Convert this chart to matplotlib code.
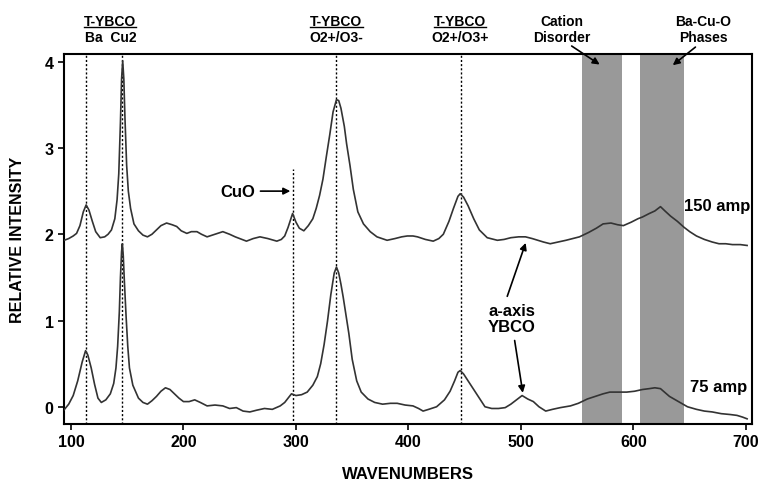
import numpy as np
from matplotlib import pyplot as plt
from matplotlib.lines import Line2D

plt.rcParams['font.family'] = ['Liberation Sans', 'DejaVu Sans']
plt.rcParams['font.weight'] = 'bold'

# 150 amp spectrum (upper trace)
wn_150 = [94, 98, 102, 105, 108, 111, 113.5, 116, 119, 122, 126, 130, 133, 136, 139, 141, 142.5, 144,
          145, 146, 147, 148, 149.5, 151, 153, 156, 160, 164, 168, 172, 176, 180, 185, 190, 194,
          198, 203, 207, 212, 216, 221, 228, 235, 241, 246, 250, 256, 262, 268, 275, 283, 287,
          290, 293, 297, 300, 303, 307, 311, 315, 318, 321, 324, 327, 330, 333, 336, 338, 340,
          343, 345, 348, 351, 355, 360, 366, 372, 381, 388, 394, 399, 404, 408, 415, 422, 427,
          431, 436, 440, 444, 446, 449, 453, 458, 463, 470, 479, 485, 491, 498, 504, 510, 515,
          520, 526, 533, 540, 546, 552, 560, 567, 573, 580, 586, 591, 598, 604, 608, 614, 619,
          624, 628, 633, 639, 645, 650, 656, 663, 670, 676, 682, 688, 695, 701]
int_150 = [1.93, 1.95, 1.98, 2.01, 2.1, 2.26, 2.34, 2.28, 2.15, 2.03, 1.96, 1.97, 2.0, 2.05, 2.18, 2.4, 2.7, 3.3,
           3.8, 4.01, 3.8, 3.35, 2.8, 2.5, 2.3, 2.12, 2.04, 1.99, 1.97, 2.0, 2.05, 2.1, 2.13, 2.11, 2.09,
           2.04, 2.01, 2.03, 2.03, 2.0, 1.97, 2.0, 2.03, 2.0, 1.97, 1.95, 1.92, 1.95, 1.97, 1.95, 1.92, 1.94,
           1.98, 2.08, 2.24, 2.14, 2.07, 2.04, 2.1, 2.18, 2.3, 2.45, 2.64, 2.9, 3.15, 3.42, 3.56, 3.55, 3.46,
           3.25, 3.05, 2.8, 2.52, 2.26, 2.12, 2.03, 1.97, 1.93, 1.95, 1.97, 1.98, 1.98, 1.97, 1.94, 1.92, 1.95,
           2.0, 2.15, 2.3, 2.44, 2.47, 2.43, 2.33, 2.18, 2.05, 1.96, 1.93, 1.94, 1.96, 1.97, 1.97, 1.95, 1.93,
           1.91, 1.89, 1.91, 1.93, 1.95, 1.97, 2.02, 2.07, 2.12, 2.13, 2.11, 2.1, 2.14, 2.18, 2.2, 2.24, 2.27,
           2.32, 2.27, 2.21, 2.15, 2.08, 2.03, 1.98, 1.94, 1.91, 1.89, 1.89, 1.88, 1.88, 1.87]

# 75 amp spectrum (lower trace)
wn_75 = [93, 98, 102, 106, 110, 113, 115, 118, 121, 124, 127, 131, 135, 138, 140, 141.5, 143, 144, 145,
         145.7, 146.5, 147.5, 149, 150.5, 152, 155, 160, 164, 168, 172, 176, 180, 184, 188, 192, 196,
         200, 205, 210, 215, 221, 228, 235, 241, 247, 253, 259, 265, 272, 279, 286, 290, 293, 296,
         300, 305, 310, 315, 319, 322, 325, 328, 331, 334, 336, 338, 340, 342, 344, 347, 350, 354,
         358, 364, 370, 377, 384, 390, 397, 404, 409, 413, 418, 425, 432, 437, 441, 444, 446, 449,
         453, 458, 463, 468, 474, 480, 486, 491, 496, 501, 506, 511, 516, 522, 528, 535, 544, 551,
         559, 566, 573, 579, 586, 594, 601, 608, 614, 619, 624, 632, 640, 648, 656, 663, 670, 678,
         686, 692, 697, 701]
int_75 = [-0.05, 0.03, 0.13, 0.3, 0.52, 0.65, 0.6, 0.45, 0.26, 0.1, 0.05, 0.08, 0.15, 0.27, 0.45, 0.7, 1.1, 1.5, 1.8,
          1.89, 1.75, 1.45, 1.05, 0.7, 0.45, 0.25, 0.1, 0.05, 0.03, 0.07, 0.12, 0.18, 0.22, 0.2, 0.15, 0.1,
          0.06, 0.06, 0.08, 0.05, 0.01, 0.02, 0.01, -0.02, -0.01, -0.05, -0.06, -0.04, -0.02, -0.03, 0.01, 0.05, 0.1, 0.15,
          0.13, 0.14, 0.17, 0.25, 0.35, 0.5, 0.72, 0.99, 1.3, 1.55, 1.62, 1.55, 1.42, 1.27, 1.1, 0.85, 0.55, 0.3,
          0.17, 0.09, 0.05, 0.03, 0.04, 0.04, 0.02, 0.01, -0.02, -0.05, -0.03, 0.0, 0.08, 0.18, 0.3, 0.4, 0.42, 0.38,
          0.3, 0.2, 0.1, 0.0, -0.02, -0.02, -0.01, 0.03, 0.08, 0.13, 0.09, 0.06, 0.0, -0.05, -0.03, -0.01, 0.01, 0.04,
          0.09, 0.12, 0.15, 0.17, 0.17, 0.17, 0.18, 0.2, 0.21, 0.22, 0.21, 0.12, 0.06, 0.0, -0.03, -0.05, -0.06, -0.08,
          -0.09, -0.1, -0.12, -0.14]

# mode positions (dotted guides) and shaded regions
full_modes = [113, 145, 336, 447]
cuo_mode = 297
bands = [(554, 590), (606, 645)]

x_ticks = [100, 200, 300, 400, 500, 600, 700]
y_ticks = [0, 1, 2, 3, 4]


def main():
    fig = plt.figure(figsize=(7.58, 4.81), dpi=100)
    ax = fig.add_axes([0.0844, 0.1164, 0.9076, 0.7693])

    for lo, hi in bands:
        ax.axvspan(lo, hi, color='#999999', lw=0, zorder=1)

    for m in full_modes:
        ax.axvline(m, color='black', ls=(0, (1.5, 1.5)), lw=1.0, zorder=2)
    ax.plot([cuo_mode, cuo_mode], [-0.3, 2.76], color='black', ls=(0, (1.5, 1.5)), lw=1.0, zorder=2)

    ax.plot(wn_150, int_150, color='#333333', lw=1.2, zorder=3)
    ax.plot(wn_75, int_75, color='#333333', lw=1.2, zorder=3)

    ax.set_xlim(93.8, 705.3)
    ax.set_ylim(-0.2, 4.09)
    ax.set_xticks(x_ticks)
    ax.set_yticks(y_ticks)
    ax.tick_params(direction='out', length=4, width=1.2, labelsize=11.5)
    for s in ax.spines.values():
        s.set_linewidth(1.5)

    ax.set_xlabel('WAVENUMBERS', fontsize=12, fontweight='bold', labelpad=12)
    ax.set_ylabel('RELATIVE INTENSITY', fontsize=11.5, fontweight='bold', labelpad=14)

    tr = ax.get_xaxis_transform()
    fs = 10
    under = []
    under.append(ax.text(135, 1.089, 'T-YBCO', transform=tr, ha='center', va='center', fontsize=fs))
    ax.text(135, 1.047, 'Ba  Cu2', transform=tr, ha='center', va='center', fontsize=fs)
    under.append(ax.text(336, 1.089, 'T-YBCO', transform=tr, ha='center', va='center', fontsize=fs))
    ax.text(336, 1.047, 'O2+/O3-', transform=tr, ha='center', va='center', fontsize=fs)
    under.append(ax.text(446, 1.089, 'T-YBCO', transform=tr, ha='center', va='center', fontsize=fs))
    ax.text(446, 1.047, 'O2+/O3+', transform=tr, ha='center', va='center', fontsize=fs)
    ax.text(536, 1.089, 'Cation', transform=tr, ha='center', va='center', fontsize=fs)
    ax.text(536, 1.047, 'Disorder', transform=tr, ha='center', va='center', fontsize=fs)
    ax.text(662, 1.089, 'Ba-Cu-O', transform=tr, ha='center', va='center', fontsize=fs)
    ax.text(662, 1.047, 'Phases', transform=tr, ha='center', va='center', fontsize=fs)

    arrow = dict(arrowstyle='-|>', color='black', lw=1.2, mutation_scale=10)
    ax.annotate('', xy=(572, 3.95), xytext=(543, 4.2), arrowprops=arrow, annotation_clip=False)
    ax.annotate('', xy=(633, 3.94), xytext=(657, 4.19), arrowprops=arrow, annotation_clip=False)

    ax.annotate('CuO', xy=(295, 2.5), xytext=(248, 2.5), fontsize=12, ha='center', va='center',
                arrowprops=dict(arrowstyle='-|>', color='black', lw=1.2, mutation_scale=10,
                                shrinkA=2, shrinkB=0))

    ax.text(492, 1.02, 'a-axis\nYBCO', ha='center', va='center', fontsize=12, linespacing=1.1)
    ax.annotate('', xy=(505, 1.93), xytext=(487, 1.25), arrowprops=arrow)
    ax.annotate('', xy=(502, 0.13), xytext=(494, 0.8), arrowprops=arrow)

    ax.text(704, 2.33, '150 amp', ha='right', va='center', fontsize=12)
    ax.text(701, 0.24, '75 amp', ha='right', va='center', fontsize=12)

    # underline the T-YBCO headers
    fig.canvas.draw()
    r = fig.canvas.get_renderer()
    inv = fig.transFigure.inverted()
    for t in under:
        bb = t.get_window_extent(r)
        (x0, y0), (x1, _) = inv.transform([(bb.x0, bb.y0), (bb.x1, bb.y1)])
        fig.add_artist(Line2D([x0, x1], [y0 + 0.002, y0 + 0.002], color='black', lw=1.0,
                              transform=fig.transFigure))

    fig.savefig('out.png', dpi=100)


if __name__ == '__main__':
    main()
